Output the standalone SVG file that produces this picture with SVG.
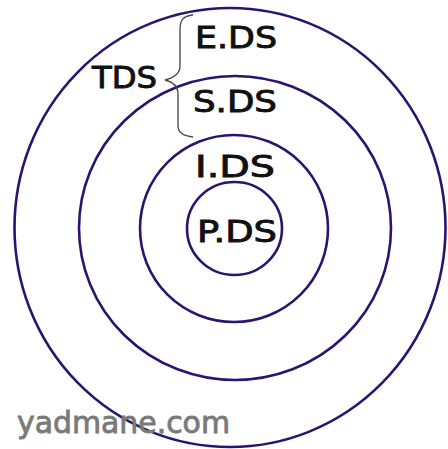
<svg xmlns="http://www.w3.org/2000/svg" width="448" height="449" viewBox="0 0 448 449">
<style>
.ring{fill:none;stroke:#2b1470;stroke-width:2.6}
.lbl{font-family:"DejaVu Sans","Liberation Sans",sans-serif;font-size:30px;fill:#111;stroke:#111;stroke-width:0.9}
.brace{fill:none;stroke:#444;stroke-width:1.3}
</style>
<rect width="448" height="449" fill="#fff"/>
<g id="rings">
<ellipse id="outer" class="ring" cx="230" cy="227.5" rx="215.5" ry="219.5"/>
<ellipse id="second" class="ring" cx="235" cy="228" rx="156" ry="152"/>
<ellipse id="third" class="ring" cx="234" cy="228.5" rx="94" ry="93.5"/>
<ellipse id="inner" class="ring" cx="234.5" cy="228.5" rx="47.5" ry="46.5"/>
</g>
<path id="brace" class="brace" d="M193,15 C183,16 180,20 180,30 L180,66 C180,74 173,78 165,80 C173,82 178,86 178,94 L178,126 C178,133 184,136 193,137"/>
<g id="labels">
<text class="lbl" x="195" y="48" textLength="82" lengthAdjust="spacingAndGlyphs">E.DS</text>
<text class="lbl" x="92" y="88" textLength="65" lengthAdjust="spacingAndGlyphs">TDS</text>
<text class="lbl" x="193" y="112" textLength="84" lengthAdjust="spacingAndGlyphs">S.DS</text>
<text class="lbl" x="195" y="177" textLength="80" lengthAdjust="spacingAndGlyphs">I.DS</text>
<text class="lbl" x="197" y="242" textLength="80" lengthAdjust="spacingAndGlyphs">P.DS</text>
</g>
<text id="watermark" x="17" y="433" font-family="DejaVu Sans, sans-serif" font-size="31" fill="#7a7a7a" stroke="#7a7a7a" stroke-width="0.9" textLength="213" lengthAdjust="spacingAndGlyphs">yadmane.com</text>
</svg>
